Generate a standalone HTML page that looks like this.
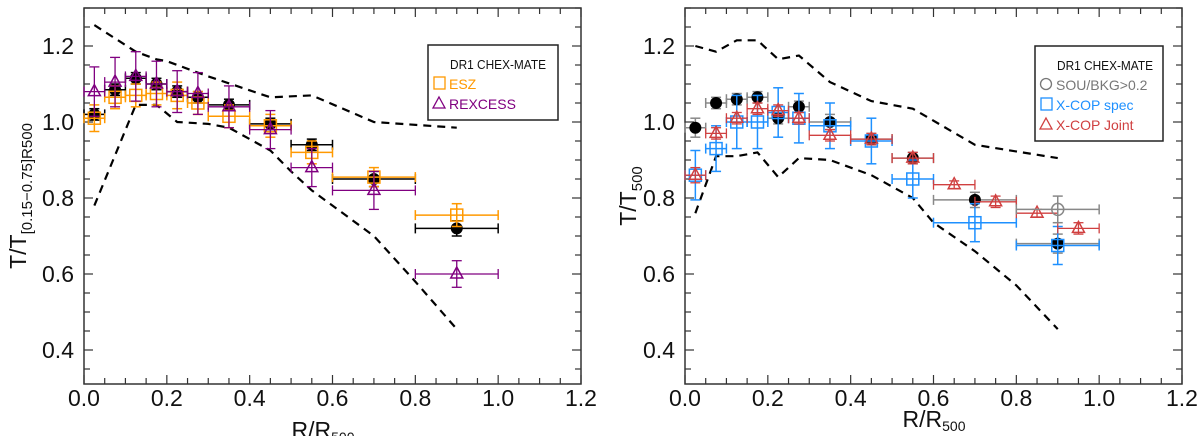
<!DOCTYPE html>
<html><head><meta charset="utf-8"><style>
body{margin:0;background:#fff;font-family:"Liberation Sans",sans-serif}
svg{display:block}
</style></head><body>
<svg id="chart" width="1200" height="436" viewBox="0 0 1200 436" xmlns="http://www.w3.org/2000/svg"></svg>
<script>
// ---- data: left panel ----
const binsC = [0.025,0.075,0.125,0.175,0.225,0.275,0.35,0.45,0.55,0.7,0.9];
const binsW = [0.025,0.025,0.025,0.025,0.025,0.025,0.05,0.05,0.05,0.1,0.1];
const leftDr1 = [1.02,1.085,1.115,1.10,1.08,1.065,1.045,0.995,0.94,0.85,0.72];
const leftDr1Err = [0.015,0.015,0.015,0.015,0.015,0.015,0.015,0.015,0.015,0.02,0.02];
const esz = [1.01,1.065,1.07,1.075,1.07,1.05,1.015,0.99,0.92,0.855,0.755];
const eszErr = [0.035,0.03,0.03,0.03,0.035,0.03,0.03,0.03,0.03,0.025,0.03];
const rexcess = [1.08,1.105,1.12,1.10,1.08,1.075,1.04,0.98,0.88,0.82,0.60];
const rexcessErr = [0.065,0.065,0.065,0.06,0.055,0.055,0.055,0.05,0.05,0.05,0.035];
const leftUpX = [0.025,0.125,0.175,0.2,0.3,0.45,0.55,0.7,0.9];
const leftUpY = [1.255,1.185,1.165,1.16,1.12,1.065,1.07,1.0,0.985];
const leftLoX = [0.025,0.125,0.175,0.225,0.3,0.35,0.45,0.5,0.55,0.7,0.8,0.9];
const leftLoY = [0.78,1.045,1.045,1.0,0.995,0.985,0.925,0.87,0.82,0.7,0.58,0.455];
// ---- data: right panel ----
const rightDr1 = [0.985,1.05,1.06,1.065,1.01,1.04,1.0,0.955,0.905,0.795,0.68];
const rightDr1Err = [0.025,0.015,0.015,0.015,0.015,0.015,0.02,0.015,0.015,0.02,0.025];
const xcopSpec = [0.86,0.93,1.0,1.0,1.025,1.01,0.99,0.95,0.85,0.735,0.675];
const xcopSpecErr = [0.065,0.06,0.07,0.07,0.065,0.065,0.06,0.06,0.05,0.05,0.05];
const jointC = [0.025,0.075,0.125,0.175,0.225,0.275,0.35,0.45,0.55,0.65,0.75,0.85,0.95];
const jointW = [0.025,0.025,0.025,0.025,0.025,0.025,0.05,0.05,0.05,0.05,0.05,0.05,0.05];
const xcopJoint = [0.86,0.97,1.01,1.035,1.03,1.01,0.965,0.955,0.905,0.835,0.79,0.76,0.72];
const xcopJointErr = [0.02,0.015,0.015,0.015,0.015,0.015,0.015,0.015,0.015,0.01,0.015,0.01,0.015];
const sbX = [0.9];
const sbY = [0.77];
const sbErr = [0.035];
const rightUpX = [0.025,0.075,0.125,0.175,0.225,0.275,0.35,0.45,0.55,0.7,0.9];
const rightUpY = [1.2,1.185,1.215,1.215,1.165,1.175,1.105,1.055,1.035,0.94,0.905];
const rightLoX = [0.025,0.075,0.125,0.175,0.225,0.275,0.35,0.45,0.55,0.6,0.7,0.8,0.9];
const rightLoY = [0.76,0.91,0.91,0.92,0.855,0.905,0.9,0.86,0.80,0.735,0.66,0.57,0.455];
const xTicks = [0,0.2,0.4,0.6,0.8,1.0,1.2];
const xTickLabels = ["0.0","0.2","0.4","0.6","0.8","1.0","1.2"];
const yTicks = [0.4,0.6,0.8,1.0,1.2];
const yTickLabels = ["0.4","0.6","0.8","1.0","1.2"];

const NS="http://www.w3.org/2000/svg";
const svg=document.getElementById('chart');
function mk(tag,attrs,parent){const e=document.createElementNS(NS,tag);for(const k in attrs)e.setAttribute(k,attrs[k]);(parent||svg).appendChild(e);return e;}

function panel(x0,x1,name){
  const y0=8,y1=384;
  const sx=v=>x0+(v/1.2)*(x1-x0);
  const sy=v=>46+(1.2-v)*380;
  const g=mk('g',{});
  
  
  const fr=mk('rect',{x:x0,y:y0,width:x1-x0,height:y1-y0,fill:'none',stroke:'#333','stroke-width':1.5},g);
  
  
  for(let i=0;i<=24;i++){const v=i*0.05;const X=sx(v);const L=(i%4===0)?9:6;
    mk('line',{x1:X,y1:y1,x2:X,y2:y1-L,stroke:'#333','stroke-width':1.2},g);
    mk('line',{x1:X,y1:y0,x2:X,y2:y0+L,stroke:'#333','stroke-width':1.2},g);}
  for(let i=0;i<=19;i++){const v=0.35+i*0.05;const Y=sy(v);const L=(i%4===1)?9:6;
    mk('line',{x1:x0,y1:Y,x2:x0+L,y2:Y,stroke:'#333','stroke-width':1.2},g);
    mk('line',{x1:x1,y1:Y,x2:x1-L,y2:Y,stroke:'#333','stroke-width':1.2},g);}
  xTicks.forEach((v,i)=>{const t=mk('text',{x:sx(v),y:406,'font-size':23,'text-anchor':'middle',fill:'#111'},g);t.textContent=xTickLabels[i];
    
    });
  yTicks.forEach((v,i)=>{const t=mk('text',{x:x0-10,y:sy(v)+8,'font-size':23,'text-anchor':'end',fill:'#111'},g);t.textContent=yTickLabels[i];
    
    });
  return {g,sx,sy};
}
function dashed(p,xs,ys,name){
  const d=xs.map((x,i)=>(i?'L':'M')+p.sx(x)+','+p.sy(ys[i])).join(' ');
  const e=mk('path',{d,fill:'none',stroke:'#000','stroke-width':2.2,'stroke-dasharray':'8,6'},p.g);
  
  
}
function series(p,xc,xw,ys,es,color,marker,name,sw){
  const g=mk('g',{},p.g);
  
  
  xc.forEach((x,i)=>{
    const X=p.sx(x),Y=p.sy(ys[i]),XL=p.sx(x-xw[i]),XR=p.sx(x+xw[i]),YT=p.sy(ys[i]+es[i]),YB=p.sy(ys[i]-es[i]);
    const w=sw||1.5;
    mk('line',{x1:XL,y1:Y,x2:XR,y2:Y,stroke:color,'stroke-width':w},g);
    mk('line',{x1:XL,y1:Y-5,x2:XL,y2:Y+5,stroke:color,'stroke-width':w},g);
    mk('line',{x1:XR,y1:Y-5,x2:XR,y2:Y+5,stroke:color,'stroke-width':w},g);
    mk('line',{x1:X,y1:YT,x2:X,y2:YB,stroke:color,'stroke-width':w},g);
    mk('line',{x1:X-5,y1:YT,x2:X+5,y2:YT,stroke:color,'stroke-width':w},g);
    mk('line',{x1:X-5,y1:YB,x2:X+5,y2:YB,stroke:color,'stroke-width':w},g);
    let m;
    if(marker==='dot') m=mk('circle',{cx:X,cy:Y,r:6,fill:'#000'},g);
    else if(marker==='ocirc') m=mk('circle',{cx:X,cy:Y,r:6,fill:'none',stroke:color,'stroke-width':1.5},g);
    else if(marker==='sq') m=mk('rect',{x:X-6,y:Y-6,width:12,height:12,fill:'none',stroke:color,'stroke-width':1.5},g);
    else m=mk('path',{d:`M${X},${Y-7} L${X+6},${Y+4} L${X-6},${Y+4} Z`,fill:'none',stroke:color,'stroke-width':1.5},g);
    
    
  });
}
function legend(x,y,w,h,items){
  const g=mk('g',{});
  
  
  mk('rect',{x,y,width:w,height:h,fill:'#fff',stroke:'#222','stroke-width':1.5},g);
  const t=mk('text',{x:x+22,y:y+24,'font-size':13,fill:'#111',textLength:96,lengthAdjust:'spacingAndGlyphs'},g);t.textContent='DR1 CHEX-MATE';
  items.forEach((it,i)=>{
    const Y=y+44+i*20,X=x+11;
    if(it.m==='sq') mk('rect',{x:X-5,y:Y-12,width:11,height:12,fill:'none',stroke:it.c,'stroke-width':1.3},g);
    else if(it.m==='tri') mk('path',{d:`M${X},${Y-12} L${X+6},${Y-1} L${X-6},${Y-1} Z`,fill:'none',stroke:it.c,'stroke-width':1.3},g);
    else mk('circle',{cx:X,cy:Y-6,r:5.5,fill:'none',stroke:it.c,'stroke-width':1.3},g);
    const tt=mk('text',{x:x+21,y:Y,'font-size':14,fill:it.c},g);tt.textContent=it.t;
    
    
  });
}
// left panel
const L=panel(84,581,'left-panel');
dashed(L,leftUpX,leftUpY,'upper-envelope');
dashed(L,leftLoX,leftLoY,'lower-envelope');
series(L,binsC,binsW,leftDr1,leftDr1Err,'#000','dot','dr1-series');
series(L,binsC,binsW,esz,eszErr,'#ff9900','sq','esz-series');
series(L,binsC,binsW,rexcess,rexcessErr,'#800080','tri','rexcess-series',1.3);
legend(428,45,130,75,[{m:'sq',c:'#ff9900',t:'ESZ'},{m:'tri',c:'#800080',t:'REXCESS'}]);
let t=mk('text',{x:26,y:196,'font-size':23,'text-anchor':'middle',fill:'#111',transform:'rotate(-90 26 196)'});
t.innerHTML='T/T<tspan font-size="15" dy="6">[0.15−0.75]R500</tspan>';


t=mk('text',{x:323,y:438,'font-size':23,'text-anchor':'middle',fill:'#111'});
t.innerHTML='R/R<tspan font-size="14" dy="4">500</tspan>';


// right panel
const R=panel(685,1182,'right-panel');
dashed(R,rightUpX,rightUpY,'upper-envelope');
dashed(R,rightLoX,rightLoY,'lower-envelope');
series(R,binsC,binsW,rightDr1,rightDr1Err,'#888','dot','dr1-series');
series(R,binsC,binsW,xcopSpec,xcopSpecErr,'#1e90ff','sq','xcop-spec-series');
series(R,jointC,jointW,xcopJoint,xcopJointErr,'#d04040','tri','xcop-joint-series',1.3);
series(R,sbX,[0.1],sbY,sbErr,'#888','ocirc','sou-bkg-series');
legend(1035,46,128,95,[{m:'circ',c:'#777',t:'SOU/BKG>0.2'},{m:'sq',c:'#1e90ff',t:'X-COP spec'},{m:'tri',c:'#d04040',t:'X-COP Joint'}]);
t=mk('text',{x:636,y:196,'font-size':23,'text-anchor':'middle',fill:'#111',transform:'rotate(-90 636 196)'});
t.innerHTML='T/T<tspan font-size="15" dy="6">500</tspan>';


t=mk('text',{x:934,y:427,'font-size':23,'text-anchor':'middle',fill:'#111'});
t.innerHTML='R/R<tspan font-size="14" dy="4">500</tspan>';


</script>
</body></html>
